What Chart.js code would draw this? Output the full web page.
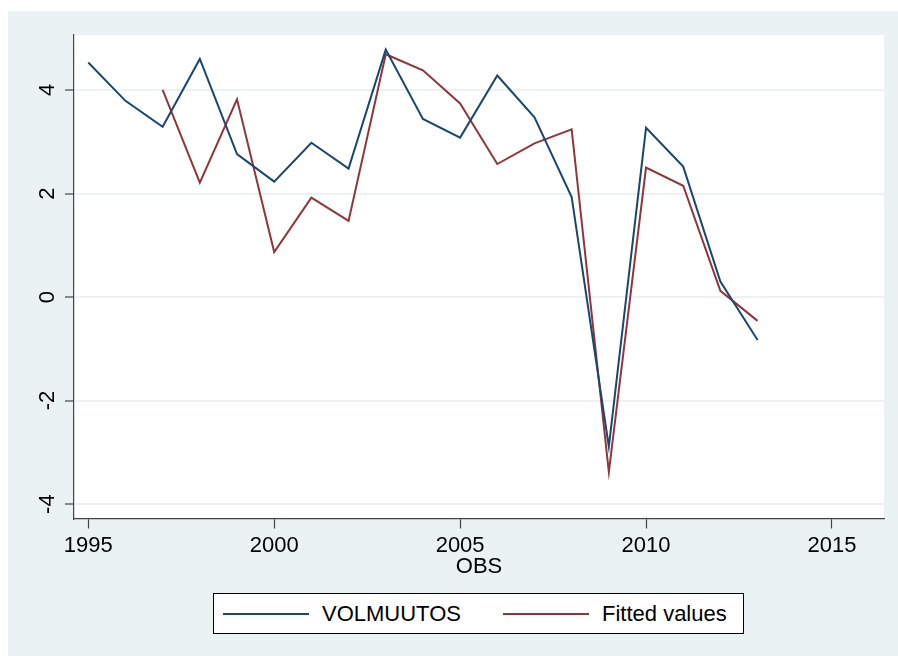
<!DOCTYPE html>
<html>
<head>
<meta charset="utf-8">
<script src="https://cdn.jsdelivr.net/npm/chart.js@4.4.1/dist/chart.umd.min.js"></script>
<style>
html,body{margin:0;padding:0;background:#fff;}
body{width:898px;height:656px;position:relative;overflow:hidden;font-family:"Liberation Sans",Arial,sans-serif;}
#c{position:absolute;left:8px;top:11px;}
#legend{position:absolute;left:213px;top:593px;width:531px;height:41px;box-sizing:border-box;border:1px solid #000;background:#fff;display:flex;align-items:center;padding-left:9px;font-size:22px;color:#000;}
.item{display:flex;align-items:center;white-space:nowrap;}
.item:first-child{width:280px;}
.swatch{width:86px;height:2px;margin-right:13px;}
</style>
</head>
<body>
<canvas id="c" width="890" height="645"></canvas>
<div id="legend"></div>
<script>
// data
const years=[1995,1996,1997,1998,1999,2000,2001,2002,2003,2004,2005,2006,2007,2008,2009,2010,2011,2012,2013];
const volmuutos=[4.53,3.79,3.29,4.60,2.76,2.23,2.98,2.48,4.78,3.44,3.08,4.28,3.47,1.93,-2.89,3.27,2.52,0.30,-0.83];
const fitted=[null,null,4.00,2.21,3.82,0.87,1.92,1.47,4.69,4.38,3.74,2.57,2.97,3.24,-3.38,2.50,2.15,0.12,-0.46];
const seriesNames=['VOLMUUTOS','Fitted values'];
const seriesColors=['#1a476f','#90353b'];
const xTicks=[1995,2000,2005,2010,2015];
const yTicks=[-4,-2,0,2,4];
const xTitle='OBS';

const BG='#eaf2f3', AXIS='#444';
Chart.defaults.font.family='"Liberation Sans", Arial, sans-serif';
Chart.defaults.font.size=22;
Chart.defaults.color='#000';

const toPts=arr=>years.map((x,i)=>({x,y:arr[i]})).filter(p=>p.y!==null);

const bgPlugin={id:'bg',beforeDraw(chart){
  const {ctx,chartArea:a}=chart;
  ctx.save();
  ctx.fillStyle=BG; ctx.fillRect(0,0,chart.width,chart.height);
  ctx.fillStyle='#fff'; ctx.fillRect(a.left,a.top,a.right-a.left,a.bottom-a.top);
  ctx.restore();
}};

const chart=new Chart(document.getElementById('c'),{
  type:'line',
  data:{datasets:[volmuutos,fitted].map((d,i)=>({label:seriesNames[i],data:toPts(d),borderColor:seriesColors[i],backgroundColor:seriesColors[i],borderWidth:2,pointRadius:0,tension:0}))},
  options:{
    responsive:false,animation:false,
    layout:{padding:{top:24,right:14,left:0,bottom:76}},
    plugins:{legend:{display:false},tooltip:{enabled:false}},
    scales:{
      x:{type:'linear',min:1994.616,max:2016.4,
        afterBuildTicks:s=>{s.ticks=xTicks.map(v=>({value:v}))},
        afterFit:s=>{s.height=61.5},
        grid:{drawOnChartArea:false,tickLength:10,tickColor:AXIS,tickWidth:1.2},
        border:{color:AXIS,width:1.2},
        ticks:{padding:4,callback:v=>String(v)},
        title:{display:true,text:xTitle,padding:0}
      },
      y:{type:'linear',min:-4.278,max:5.062,
        afterBuildTicks:s=>{s.ticks=yTicks.map(v=>({value:v}))},
        afterFit:s=>{s.width=66},
        grid:{color:BG,lineWidth:2,tickLength:9,tickColor:AXIS,tickWidth:1.2},
        border:{color:AXIS,width:1.2},
        ticks:{padding:7,minRotation:90,maxRotation:90,crossAlign:'center',callback:v=>String(v)}
      }
    }
  },
  plugins:[bgPlugin]
});

// legend as html
const lg=document.getElementById('legend');
seriesNames.forEach((n,i)=>{
  const it=document.createElement('div'); it.className='item';
  const sw=document.createElement('span'); sw.className='swatch'; sw.style.background=seriesColors[i];
  const tx=document.createElement('span'); tx.textContent=n;
  it.appendChild(sw); it.appendChild(tx); lg.appendChild(it);
});
</script>
</body>
</html>
